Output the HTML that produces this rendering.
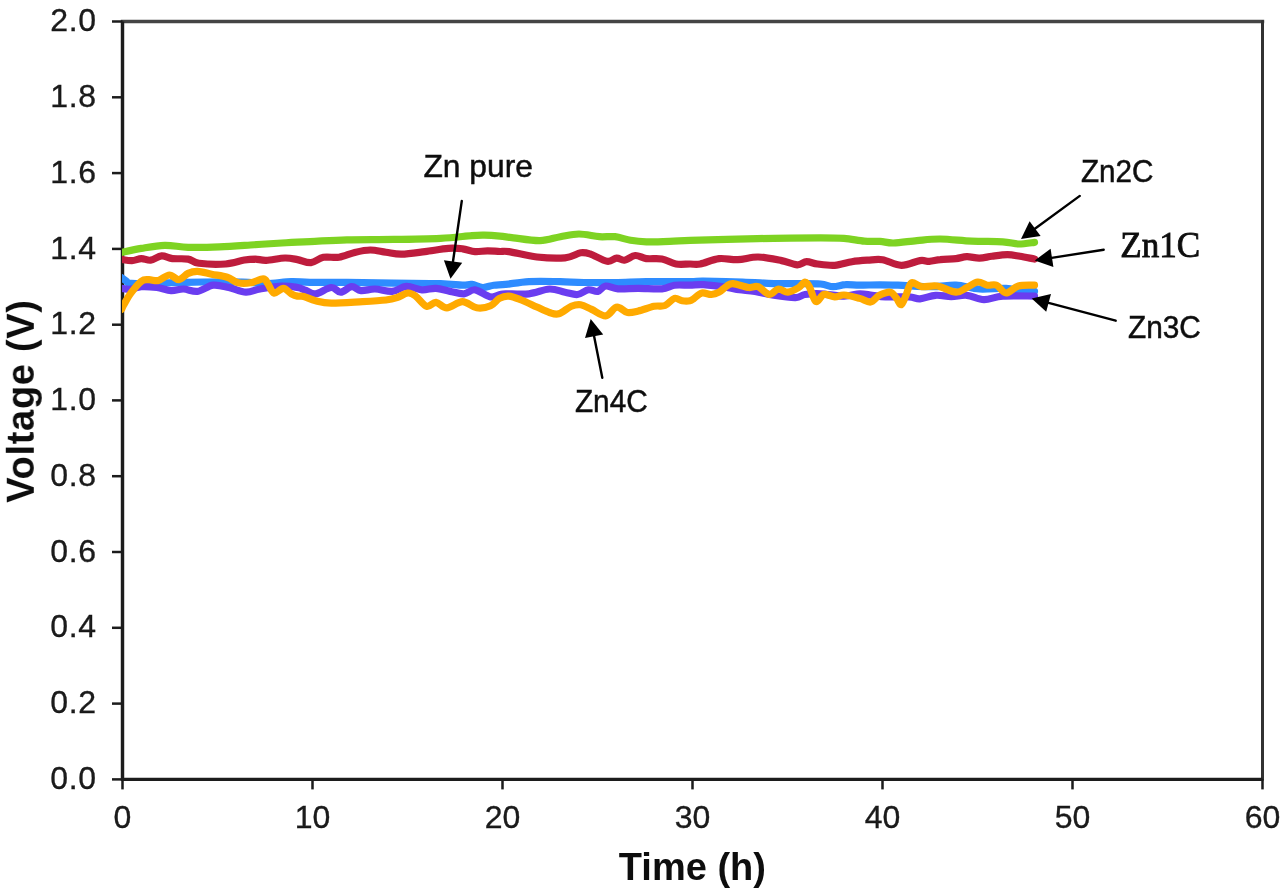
<!DOCTYPE html>
<html lang="en"><head><meta charset="utf-8"><title>Voltage vs Time</title>
<style>
html,body{margin:0;padding:0;background:#fff;}
body{width:1280px;height:889px;overflow:hidden;}
svg{display:block;}
.tick{font-family:"Liberation Sans",Arial,Helvetica,sans-serif;font-size:32px;fill:#1a1a1a;}
.axt{font-family:"Liberation Sans",Arial,Helvetica,sans-serif;font-size:38px;font-weight:bold;fill:#111;}
.lab{font-family:"Liberation Sans",Arial,Helvetica,sans-serif;fill:#111;}
.labs{font-family:"Liberation Serif","Times New Roman",serif;fill:#111;}
</style></head><body>
<svg width="1280" height="889" viewBox="0 0 1280 889">
<rect width="1280" height="889" fill="#fff"/>
<defs><filter id="soft" filterUnits="userSpaceOnUse" x="0" y="0" width="1280" height="889"><feGaussianBlur stdDeviation="0.65"/></filter><filter id="softt" filterUnits="userSpaceOnUse" x="0" y="0" width="1280" height="889"><feGaussianBlur stdDeviation="0.5"/></filter></defs>
<g filter="url(#soft)" stroke="#1c1c1c" fill="none">
<path d="M122.5 21.5 H1262.5" stroke="#444" stroke-width="3.4" stroke-linecap="square"/>
<path d="M1262.5 21.5 V779.4" stroke="#303030" stroke-width="3" stroke-linecap="round"/>
<path d="M122.5 21.5 V779.4 H1262.5" stroke-width="3.4" stroke-linejoin="miter"/>
<line x1="112.0" y1="779.4" x2="122.5" y2="779.4" stroke-width="2.5"/>
<line x1="112.0" y1="703.6" x2="122.5" y2="703.6" stroke-width="2.5"/>
<line x1="112.0" y1="627.8" x2="122.5" y2="627.8" stroke-width="2.5"/>
<line x1="112.0" y1="552.0" x2="122.5" y2="552.0" stroke-width="2.5"/>
<line x1="112.0" y1="476.2" x2="122.5" y2="476.2" stroke-width="2.5"/>
<line x1="112.0" y1="400.4" x2="122.5" y2="400.4" stroke-width="2.5"/>
<line x1="112.0" y1="324.7" x2="122.5" y2="324.7" stroke-width="2.5"/>
<line x1="112.0" y1="248.9" x2="122.5" y2="248.9" stroke-width="2.5"/>
<line x1="112.0" y1="173.1" x2="122.5" y2="173.1" stroke-width="2.5"/>
<line x1="112.0" y1="97.3" x2="122.5" y2="97.3" stroke-width="2.5"/>
<line x1="112.0" y1="21.5" x2="122.5" y2="21.5" stroke-width="2.5"/>
<line x1="122.5" y1="779.4" x2="122.5" y2="789.4" stroke-width="2.5"/>
<line x1="312.5" y1="779.4" x2="312.5" y2="789.4" stroke-width="2.5"/>
<line x1="502.5" y1="779.4" x2="502.5" y2="789.4" stroke-width="2.5"/>
<line x1="692.5" y1="779.4" x2="692.5" y2="789.4" stroke-width="2.5"/>
<line x1="882.5" y1="779.4" x2="882.5" y2="789.4" stroke-width="2.5"/>
<line x1="1072.5" y1="779.4" x2="1072.5" y2="789.4" stroke-width="2.5"/>
<line x1="1262.5" y1="779.4" x2="1262.5" y2="789.4" stroke-width="2.5"/>
</g>
<defs><clipPath id="plot"><rect x="122.0" y="21.5" width="1140.0" height="757.9"/></clipPath></defs>
<g fill="none" stroke-width="7.2" stroke-linecap="round" stroke-linejoin="round" clip-path="url(#plot)" filter="url(#soft)">
<path stroke="#7ED321" d="M121.5 252.5C124.8 251.8 134.1 249.6 141.3 248.4C148.5 247.2 156.9 245.5 164.7 245.3C172.5 245.1 179.0 247.0 188.1 247.3C197.2 247.6 209.0 247.3 219.4 246.9C229.8 246.5 240.2 245.7 250.6 245.0C261.0 244.3 272.0 243.6 281.9 243.0C291.8 242.4 299.2 242.1 310.0 241.6C320.8 241.1 332.9 240.2 346.9 239.8C360.9 239.4 378.2 239.7 393.8 239.4C409.4 239.2 427.6 238.9 440.6 238.3C453.6 237.7 464.6 236.1 471.9 235.6C479.2 235.1 479.7 235.1 484.4 235.2C489.1 235.3 495.2 235.7 500.0 236.1C504.8 236.5 506.7 237.1 513.4 237.8C520.1 238.6 532.2 240.8 540.0 240.6C547.8 240.4 553.8 237.8 560.3 236.7C566.8 235.6 572.5 234.0 579.0 234.0C585.5 234.0 593.4 236.2 599.4 236.7C605.4 237.1 609.8 236.1 615.0 236.7C620.2 237.3 625.4 239.4 630.6 240.3C635.8 241.2 639.8 241.7 646.3 241.9C652.8 242.1 662.4 241.7 669.7 241.4C677.0 241.2 680.5 240.7 690.0 240.4C699.5 240.1 712.9 239.8 726.9 239.4C740.9 239.1 758.2 238.6 773.8 238.3C789.4 238.0 808.9 237.8 820.6 237.8C832.3 237.8 836.7 237.8 844.0 238.3C851.3 238.9 858.4 240.6 864.4 241.1C870.4 241.6 875.2 241.1 880.0 241.4C884.8 241.7 887.2 243.1 893.4 243.0C899.5 242.9 909.1 241.3 916.9 240.6C924.7 239.9 931.2 238.9 940.3 239.0C949.4 239.1 961.2 240.6 971.6 241.1C982.0 241.6 995.0 241.3 1002.8 241.8C1010.6 242.3 1013.1 243.9 1018.4 244.0C1023.7 244.1 1031.8 242.6 1034.5 242.3"/>
<path stroke="#BE1E3C" d="M121.5 259.4C123.2 259.6 128.6 260.7 131.9 260.6C135.2 260.5 138.2 258.7 141.3 258.6C144.4 258.5 147.2 260.6 150.6 260.2C154.0 259.8 157.9 256.2 161.6 255.9C165.2 255.6 168.1 258.1 172.5 258.6C176.9 259.1 183.7 258.3 188.1 259.1C192.5 259.9 192.8 262.5 199.0 263.3C205.2 264.1 218.0 264.6 225.6 264.0C233.2 263.4 239.4 260.8 244.4 260.0C249.4 259.2 251.7 259.1 255.3 259.1C258.9 259.2 261.4 260.5 266.3 260.3C271.2 260.1 279.8 258.1 285.0 258.0C290.2 257.9 293.2 258.8 297.5 259.6C301.8 260.4 306.7 263.0 311.0 262.6C315.3 262.2 318.7 258.2 323.4 257.3C328.1 256.4 333.8 258.0 339.0 257.2C344.2 256.4 349.5 253.6 354.7 252.4C359.9 251.2 365.1 250.0 370.3 250.0C375.5 250.0 380.8 251.6 386.0 252.3C391.2 253.0 395.1 254.3 401.6 254.2C408.1 254.1 417.2 252.6 425.0 251.6C432.8 250.6 442.1 248.9 448.4 248.4C454.6 247.9 458.1 248.3 462.5 248.8C466.9 249.3 470.8 251.3 475.0 251.6C479.2 251.9 483.3 250.8 487.5 250.8C491.7 250.8 496.4 251.4 500.0 251.5C503.6 251.6 502.7 250.7 508.8 251.6C515.0 252.5 527.5 256.0 536.9 257.0C546.3 258.0 557.7 258.5 565.0 257.8C572.3 257.1 576.4 253.5 580.6 252.8C584.8 252.2 585.6 252.5 590.0 253.9C594.4 255.3 602.8 260.6 607.2 261.3C611.6 262.0 613.7 258.3 616.6 258.1C619.5 257.9 621.3 260.6 624.4 260.2C627.5 259.8 631.6 255.8 635.3 255.5C638.9 255.2 641.9 258.0 646.3 258.6C650.7 259.2 656.9 258.1 661.9 259.0C666.9 259.9 671.3 263.2 676.0 264.0C680.7 264.8 686.0 264.0 690.0 264.0C694.0 264.0 695.5 264.9 700.3 264.0C705.1 263.1 712.8 259.3 719.0 258.6C725.2 257.9 731.3 260.0 737.8 259.7C744.3 259.4 750.8 256.9 758.1 257.0C765.4 257.1 775.1 259.3 781.6 260.6C788.1 261.9 793.0 264.6 797.2 264.8C801.4 265.0 803.2 261.8 806.6 261.7C810.0 261.6 812.8 263.4 817.5 264.0C822.2 264.6 829.0 265.7 834.7 265.3C840.4 264.9 846.4 262.6 851.9 261.7C857.4 260.8 862.4 260.5 867.5 260.2C872.6 259.9 876.9 258.8 882.5 259.7C888.1 260.6 895.0 265.1 901.3 265.3C907.5 265.5 915.3 261.3 920.0 260.6C924.7 259.9 926.0 261.5 929.4 261.3C932.8 261.1 935.9 260.1 940.3 259.7C944.7 259.2 951.6 259.1 956.0 258.6C960.4 258.1 963.0 256.8 966.9 256.7C970.8 256.6 975.2 258.2 979.4 258.1C983.6 258.0 987.2 256.9 991.9 256.3C996.6 255.7 1002.8 254.7 1007.5 254.7C1012.2 254.7 1015.5 255.6 1020.0 256.3C1024.5 257.0 1032.1 258.6 1034.5 259.0"/>
<path stroke="#2D8CFF" d="M121.5 277.6C122.2 278.1 124.3 279.8 126.0 280.8C127.7 281.8 125.8 283.0 131.5 283.4C137.2 283.8 147.9 283.2 160.0 283.0C172.1 282.8 190.0 282.2 203.8 282.0C217.6 281.8 232.4 281.7 242.8 282.0C253.2 282.3 258.2 283.7 266.3 283.6C274.4 283.5 284.0 281.7 291.3 281.5C298.6 281.3 300.7 282.2 310.0 282.3C319.3 282.4 333.0 282.2 347.0 282.3C361.0 282.4 378.2 282.9 393.8 283.1C409.4 283.3 429.2 283.2 440.6 283.6C452.1 284.0 457.3 285.1 462.5 285.2C467.7 285.3 468.5 284.0 471.9 284.4C475.3 284.8 479.1 287.4 482.8 287.5C486.5 287.6 490.0 285.7 493.8 285.2C497.6 284.7 499.7 285.0 505.6 284.4C511.5 283.8 519.9 282.1 529.0 281.6C538.1 281.1 551.2 281.5 560.3 281.6C569.4 281.8 574.7 282.4 583.8 282.5C592.9 282.6 604.6 282.6 615.0 282.5C625.4 282.4 633.8 281.8 646.3 281.6C658.8 281.5 680.5 281.7 690.0 281.6C699.5 281.5 694.6 280.9 703.4 281.0C712.1 281.1 730.8 281.6 742.5 282.0C754.2 282.4 764.7 283.3 773.8 283.6C782.9 283.9 789.4 283.5 797.2 283.6C805.0 283.7 814.6 283.5 820.6 284.0C826.6 284.5 828.8 286.6 833.0 286.7C837.2 286.8 841.1 284.9 845.6 284.7C850.1 284.4 854.0 285.2 859.7 285.2C865.4 285.2 873.6 284.8 880.0 284.8C886.4 284.8 889.2 284.9 898.0 285.2C906.8 285.5 922.8 286.7 932.5 286.7C942.2 286.7 948.2 284.8 956.0 285.2C963.8 285.6 971.1 288.5 979.4 289.0C987.7 289.5 999.2 288.0 1006.0 288.3C1012.8 288.6 1015.2 290.1 1020.0 290.6C1024.8 291.1 1032.1 291.3 1034.5 291.4"/>
<path stroke="#6A3DF0" d="M121.5 288.4C123.0 288.5 127.0 289.5 130.3 289.2C133.6 288.9 136.9 287.0 141.3 286.7C145.7 286.4 152.0 286.9 156.9 287.5C161.8 288.1 166.6 290.4 171.0 290.6C175.4 290.9 179.0 288.9 183.4 289.0C187.8 289.1 192.6 292.0 197.5 291.4C202.4 290.8 207.9 285.8 213.1 285.2C218.3 284.6 223.3 286.3 228.8 287.5C234.3 288.7 240.8 291.9 246.0 292.2C251.2 292.4 254.0 290.0 260.0 289.0C266.0 288.0 275.6 286.2 281.9 286.0C288.1 285.8 293.5 286.8 297.5 287.5C301.5 288.2 303.0 289.4 306.0 290.5C309.0 291.6 311.4 294.3 315.6 293.8C319.8 293.3 327.1 287.8 331.3 287.5C335.5 287.2 337.2 292.3 340.6 292.2C344.0 292.1 348.2 287.0 351.6 286.7C355.0 286.4 357.1 290.2 361.0 290.6C364.9 291.0 369.8 288.9 375.0 289.0C380.2 289.1 387.0 291.8 392.2 291.4C397.4 291.0 401.4 286.7 406.3 286.4C411.2 286.1 416.9 289.5 421.9 289.8C426.8 290.1 431.3 288.0 436.0 288.3C440.7 288.6 445.3 290.5 450.0 291.4C454.7 292.3 459.8 294.1 464.0 293.8C468.2 293.5 470.6 289.3 475.0 289.8C479.4 290.3 486.4 296.1 490.6 296.9C494.8 297.7 497.5 295.0 500.0 294.5C502.5 294.0 500.8 293.9 505.6 293.8C510.4 293.7 521.7 294.6 529.0 293.8C536.3 293.0 543.4 289.3 549.4 289.0C555.4 288.7 560.3 291.3 565.0 292.2C569.7 293.1 573.6 294.9 577.5 294.5C581.4 294.1 585.0 290.3 588.4 289.8C591.8 289.3 594.9 292.0 597.8 291.4C600.7 290.8 602.2 286.4 605.6 286.0C609.0 285.6 612.5 288.4 618.0 288.8C623.5 289.2 631.1 288.3 638.4 288.3C645.7 288.3 655.9 289.3 661.9 288.8C667.9 288.3 669.7 285.8 674.4 285.2C679.1 284.6 685.2 285.3 690.0 285.2C694.8 285.1 697.2 284.3 703.4 284.7C709.5 285.1 720.9 286.6 726.9 287.5C732.9 288.4 734.7 289.2 739.4 289.8C744.1 290.4 749.3 290.5 755.0 291.4C760.7 292.3 767.0 294.2 773.8 295.3C780.6 296.4 790.4 297.8 795.6 297.7C800.8 297.6 800.8 295.1 805.0 294.5C809.2 293.9 814.1 293.5 820.6 293.8C827.1 294.1 837.5 296.1 844.0 296.1C850.5 296.1 855.0 293.9 859.7 293.8C864.4 293.7 867.9 294.8 872.2 295.3C876.5 295.8 879.5 296.6 885.6 296.9C891.7 297.2 903.3 296.6 909.0 296.9C914.7 297.2 915.6 299.1 920.0 298.8C924.4 298.5 930.4 295.7 935.6 295.3C940.8 294.9 946.1 296.6 951.3 296.6C956.5 296.6 961.4 294.8 966.9 295.3C972.4 295.8 978.0 299.6 984.0 299.7C990.0 299.8 994.4 296.7 1002.8 296.1C1011.2 295.5 1029.2 296.1 1034.5 296.1"/>
<path stroke="#FFAA00" d="M121.5 309.5C121.9 308.7 122.5 307.1 124.0 304.5C125.5 301.9 127.4 297.7 130.3 293.8C133.2 289.9 138.2 283.7 141.3 281.3C144.4 278.9 146.2 279.8 149.0 279.7C151.8 279.6 155.0 281.3 158.4 280.5C161.8 279.7 166.0 275.1 169.4 275.0C172.8 274.9 175.7 280.0 178.8 279.7C181.9 279.4 185.0 274.8 188.1 273.4C191.2 272.0 193.6 271.3 197.5 271.4C201.4 271.5 206.7 273.2 211.6 274.2C216.5 275.2 222.8 275.9 227.2 277.3C231.6 278.7 234.2 281.9 238.1 282.8C242.0 283.7 246.4 283.5 250.6 282.8C254.8 282.1 260.2 278.8 263.1 278.9C266.0 279.0 266.0 281.2 267.8 283.6C269.6 286.0 271.4 292.2 274.0 293.0C276.6 293.8 280.5 288.2 283.4 288.3C286.3 288.4 288.9 292.5 291.3 293.8C293.7 295.1 295.4 295.7 297.5 296.1C299.6 296.6 300.8 295.7 303.8 296.5C306.8 297.3 311.0 299.7 315.6 300.8C320.2 301.9 323.5 303.0 331.3 303.1C339.1 303.2 353.4 302.1 362.5 301.6C371.6 301.1 380.3 300.6 386.0 300.0C391.7 299.4 393.3 298.9 396.9 297.7C400.5 296.5 404.7 293.3 407.8 293.0C410.9 292.7 412.5 293.9 415.6 296.1C418.7 298.3 423.2 305.3 426.6 306.3C430.0 307.3 432.6 302.1 436.0 302.3C439.4 302.6 442.5 307.9 446.9 307.8C451.3 307.7 457.6 301.6 462.5 301.6C467.4 301.6 471.9 307.1 476.6 307.8C481.3 308.5 486.8 307.4 490.6 305.8C494.4 304.2 496.4 300.0 499.4 298.4C502.4 296.8 505.2 295.8 508.8 296.1C512.5 296.4 516.6 298.2 521.3 300.0C526.0 301.8 532.2 304.9 536.9 307.0C541.6 309.1 545.8 311.4 549.4 312.5C553.0 313.6 555.1 314.8 558.8 313.8C562.4 312.8 567.7 307.8 571.3 306.3C574.9 304.8 577.2 304.2 580.6 304.7C584.0 305.2 587.4 307.5 591.6 309.4C595.8 311.3 601.7 316.2 605.6 315.9C609.5 315.6 612.6 309.1 615.0 307.8C617.4 306.5 617.6 307.0 619.7 307.8C621.8 308.6 624.4 312.0 627.5 312.5C630.6 313.0 634.0 312.0 638.4 311.0C642.8 310.0 649.6 307.2 654.0 306.3C658.4 305.4 661.6 306.8 665.0 305.5C668.4 304.2 671.5 299.2 674.4 298.4C677.3 297.6 679.6 300.4 682.2 300.8C684.8 301.2 688.0 301.2 690.0 300.8C692.0 300.4 692.0 299.7 694.0 298.4C696.0 297.1 699.0 293.6 701.9 293.0C704.8 292.4 708.4 294.6 711.3 294.5C714.1 294.4 716.4 293.6 719.0 292.2C721.6 290.8 724.6 287.4 726.9 286.0C729.2 284.6 729.4 283.4 733.0 283.6C736.6 283.9 744.6 287.0 748.8 287.5C753.0 288.0 754.7 285.5 758.1 286.7C761.5 287.9 765.6 294.1 769.0 294.5C772.4 294.9 775.3 289.4 778.4 289.0C781.5 288.6 784.4 292.4 787.8 292.2C791.2 291.9 795.9 289.2 798.8 287.5C801.7 285.8 803.2 282.0 805.0 282.0C806.8 282.0 807.9 284.2 809.7 287.5C811.5 290.8 813.6 300.4 816.0 301.6C818.4 302.8 820.7 295.3 823.8 294.5C826.9 293.7 831.3 296.8 834.7 296.9C838.1 297.0 839.8 294.8 844.0 295.0C848.2 295.2 855.3 297.2 859.7 298.4C864.1 299.6 867.3 302.5 870.6 302.0C873.9 301.5 876.1 296.9 879.4 295.3C882.7 293.7 887.4 291.7 890.3 292.2C893.2 292.7 894.8 296.3 896.6 298.4C898.4 300.5 899.7 305.2 901.3 304.7C902.9 304.2 904.3 298.9 906.0 295.3C907.7 291.7 908.8 284.2 911.4 282.8C914.0 281.4 917.3 286.2 921.6 286.7C925.9 287.2 931.5 285.1 937.2 286.0C942.9 286.9 951.0 291.9 956.0 292.2C961.0 292.4 963.3 289.2 966.9 287.5C970.5 285.8 974.4 282.4 977.8 282.0C981.2 281.6 984.1 284.7 987.2 285.2C990.3 285.7 993.5 283.9 996.6 285.2C999.7 286.5 1002.4 292.9 1006.0 293.0C1009.6 293.1 1013.6 287.3 1018.4 286.0C1023.1 284.7 1031.8 285.3 1034.5 285.2"/>
</g>
<g class="tick" filter="url(#softt)" stroke="#1a1a1a" stroke-width="0.35">
<text x="96.6" y="789.0" text-anchor="end" letter-spacing="0.6">0.0</text>
<text x="96.6" y="713.2" text-anchor="end" letter-spacing="0.6">0.2</text>
<text x="96.6" y="637.4" text-anchor="end" letter-spacing="0.6">0.4</text>
<text x="96.6" y="561.6" text-anchor="end" letter-spacing="0.6">0.6</text>
<text x="96.6" y="485.8" text-anchor="end" letter-spacing="0.6">0.8</text>
<text x="96.6" y="410.1" text-anchor="end" letter-spacing="0.6">1.0</text>
<text x="96.6" y="334.3" text-anchor="end" letter-spacing="0.6">1.2</text>
<text x="96.6" y="258.5" text-anchor="end" letter-spacing="0.6">1.4</text>
<text x="96.6" y="182.7" text-anchor="end" letter-spacing="0.6">1.6</text>
<text x="96.6" y="106.9" text-anchor="end" letter-spacing="0.6">1.8</text>
<text x="96.6" y="31.1" text-anchor="end" letter-spacing="0.6">2.0</text>
<text x="122.5" y="827.8" text-anchor="middle">0</text>
<text x="312.5" y="827.8" text-anchor="middle">10</text>
<text x="502.5" y="827.8" text-anchor="middle">20</text>
<text x="692.5" y="827.8" text-anchor="middle">30</text>
<text x="882.5" y="827.8" text-anchor="middle">40</text>
<text x="1072.5" y="827.8" text-anchor="middle">50</text>
<text x="1262.5" y="827.8" text-anchor="middle">60</text>
</g>
<g filter="url(#softt)">
<text class="axt" x="692.4" y="879.7" text-anchor="middle">Time (h)</text>
<text class="axt" transform="translate(33.8 401.0) rotate(-90)" text-anchor="middle" letter-spacing="0.7">Voltage (V)</text>
<text class="lab" x="423.4" y="176.8" font-size="32" textLength="109.5" lengthAdjust="spacingAndGlyphs" stroke="#111" stroke-width="0.5">Zn pure</text>
<text class="lab" x="1081.0" y="182.0" font-size="32" textLength="72.5" lengthAdjust="spacingAndGlyphs" stroke="#111" stroke-width="0.5">Zn2C</text>
<text class="labs" x="1120.2" y="256.5" font-size="35" textLength="80.0" lengthAdjust="spacingAndGlyphs" stroke="#111" stroke-width="0.8">Zn1C</text>
<text class="lab" x="1128.0" y="338.1" font-size="32" textLength="72.9" lengthAdjust="spacingAndGlyphs" stroke="#111" stroke-width="0.5">Zn3C</text>
<text class="lab" x="574.9" y="411.7" font-size="32" textLength="72.8" lengthAdjust="spacingAndGlyphs" stroke="#111" stroke-width="0.5">Zn4C</text>
<line x1="461.8" y1="200.9" x2="452.7" y2="263.5" stroke="#000" stroke-width="2.4" stroke-linecap="round"/><polygon points="450.5,278.8 443.9,260.2 462.2,262.8" fill="#000"/>
<line x1="602.3" y1="377.7" x2="593.7" y2="334.2" stroke="#000" stroke-width="2.4" stroke-linecap="round"/><polygon points="590.7,319.0 603.2,334.4 585.0,338.0" fill="#000"/>
<line x1="1079.8" y1="195.9" x2="1033.5" y2="229.8" stroke="#000" stroke-width="2.4" stroke-linecap="round"/><polygon points="1021.0,239.0 1029.6,221.2 1040.6,236.1" fill="#000"/>
<line x1="1103.7" y1="249.8" x2="1050.0" y2="258.1" stroke="#000" stroke-width="2.4" stroke-linecap="round"/><polygon points="1034.7,260.5 1050.6,248.7 1053.4,267.0" fill="#000"/>
<line x1="1115.7" y1="320.7" x2="1046.7" y2="302.4" stroke="#000" stroke-width="2.4" stroke-linecap="round"/><polygon points="1031.7,298.4 1051.0,293.9 1046.2,311.8" fill="#000"/>
</g>
</svg></body></html>
